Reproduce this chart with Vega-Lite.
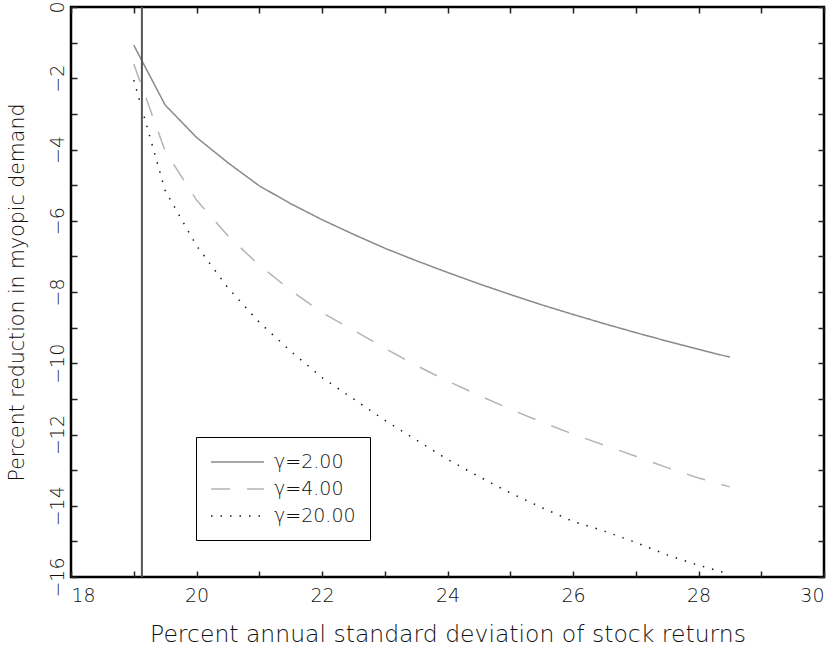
{
  "$schema": "https://vega.github.io/schema/vega-lite/v6.json",
  "autosize": {"type": "none"},
  "width": 753,
  "height": 570,
  "padding": {"left": 71, "top": 7, "right": 14, "bottom": 71},
  "background": "white",
  "config": {
    "font": "DejaVu Sans",
    "view": {"stroke": "#000", "strokeWidth": 2.5},
    "axis": {"grid": false, "labelColor": "#111", "titleColor": "#111", "labelFont": "DejaVu Sans", "titleFont": "DejaVu Sans", "labelFontWeight": 200, "titleFontWeight": 200}
  },
  "datasets": {
    "curves": [
      {"sigma": 19.0, "value": -1.07, "gamma": "γ=2.00"},
      {"sigma": 19.5, "value": -2.75, "gamma": "γ=2.00"},
      {"sigma": 20.0, "value": -3.66, "gamma": "γ=2.00"},
      {"sigma": 20.5, "value": -4.37, "gamma": "γ=2.00"},
      {"sigma": 21.0, "value": -5.02, "gamma": "γ=2.00"},
      {"sigma": 21.5, "value": -5.52, "gamma": "γ=2.00"},
      {"sigma": 22.0, "value": -5.97, "gamma": "γ=2.00"},
      {"sigma": 22.5, "value": -6.38, "gamma": "γ=2.00"},
      {"sigma": 23.0, "value": -6.77, "gamma": "γ=2.00"},
      {"sigma": 23.5, "value": -7.12, "gamma": "γ=2.00"},
      {"sigma": 24.0, "value": -7.45, "gamma": "γ=2.00"},
      {"sigma": 24.5, "value": -7.77, "gamma": "γ=2.00"},
      {"sigma": 25.0, "value": -8.07, "gamma": "γ=2.00"},
      {"sigma": 25.5, "value": -8.36, "gamma": "γ=2.00"},
      {"sigma": 26.0, "value": -8.63, "gamma": "γ=2.00"},
      {"sigma": 26.5, "value": -8.89, "gamma": "γ=2.00"},
      {"sigma": 27.0, "value": -9.14, "gamma": "γ=2.00"},
      {"sigma": 27.5, "value": -9.38, "gamma": "γ=2.00"},
      {"sigma": 28.0, "value": -9.61, "gamma": "γ=2.00"},
      {"sigma": 28.5, "value": -9.83, "gamma": "γ=2.00"},
      {"sigma": 19.0, "value": -1.6, "gamma": "γ=4.00"},
      {"sigma": 19.5, "value": -4.04, "gamma": "γ=4.00"},
      {"sigma": 20.0, "value": -5.42, "gamma": "γ=4.00"},
      {"sigma": 20.5, "value": -6.42, "gamma": "γ=4.00"},
      {"sigma": 21.0, "value": -7.25, "gamma": "γ=4.00"},
      {"sigma": 21.5, "value": -7.95, "gamma": "γ=4.00"},
      {"sigma": 22.0, "value": -8.58, "gamma": "γ=4.00"},
      {"sigma": 22.5, "value": -9.07, "gamma": "γ=4.00"},
      {"sigma": 23.0, "value": -9.58, "gamma": "γ=4.00"},
      {"sigma": 23.5, "value": -10.06, "gamma": "γ=4.00"},
      {"sigma": 24.0, "value": -10.5, "gamma": "γ=4.00"},
      {"sigma": 24.5, "value": -10.9, "gamma": "γ=4.00"},
      {"sigma": 25.0, "value": -11.29, "gamma": "γ=4.00"},
      {"sigma": 25.5, "value": -11.65, "gamma": "γ=4.00"},
      {"sigma": 26.0, "value": -11.99, "gamma": "γ=4.00"},
      {"sigma": 26.5, "value": -12.3, "gamma": "γ=4.00"},
      {"sigma": 27.0, "value": -12.61, "gamma": "γ=4.00"},
      {"sigma": 27.5, "value": -12.93, "gamma": "γ=4.00"},
      {"sigma": 28.0, "value": -13.22, "gamma": "γ=4.00"},
      {"sigma": 28.5, "value": -13.47, "gamma": "γ=4.00"},
      {"sigma": 19.0, "value": -2.05, "gamma": "γ=20.00"},
      {"sigma": 19.5, "value": -5.15, "gamma": "γ=20.00"},
      {"sigma": 20.0, "value": -6.7, "gamma": "γ=20.00"},
      {"sigma": 20.5, "value": -7.88, "gamma": "γ=20.00"},
      {"sigma": 21.0, "value": -8.85, "gamma": "γ=20.00"},
      {"sigma": 21.5, "value": -9.66, "gamma": "γ=20.00"},
      {"sigma": 22.0, "value": -10.4, "gamma": "γ=20.00"},
      {"sigma": 22.5, "value": -11.0, "gamma": "γ=20.00"},
      {"sigma": 23.0, "value": -11.6, "gamma": "γ=20.00"},
      {"sigma": 23.5, "value": -12.15, "gamma": "γ=20.00"},
      {"sigma": 24.0, "value": -12.7, "gamma": "γ=20.00"},
      {"sigma": 24.5, "value": -13.18, "gamma": "γ=20.00"},
      {"sigma": 25.0, "value": -13.64, "gamma": "γ=20.00"},
      {"sigma": 25.5, "value": -14.05, "gamma": "γ=20.00"},
      {"sigma": 26.0, "value": -14.44, "gamma": "γ=20.00"},
      {"sigma": 26.5, "value": -14.71, "gamma": "γ=20.00"},
      {"sigma": 27.0, "value": -15.03, "gamma": "γ=20.00"},
      {"sigma": 27.5, "value": -15.38, "gamma": "γ=20.00"},
      {"sigma": 28.0, "value": -15.67, "gamma": "γ=20.00"},
      {"sigma": 28.5, "value": -15.92, "gamma": "γ=20.00"}
    ],
    "vline": [{"sigma": 19.13}]
  },
  "resolve": {"axis": {"x": "independent", "y": "independent"}},
  "layer": [
    {
      "data": {"name": "curves"},
      "mark": {"type": "line", "strokeWidth": 1.5, "strokeCap": "butt", "clip": true},
      "encoding": {
        "x": {"field": "sigma", "type": "quantitative", "scale": {"domain": [18, 30], "nice": false, "zero": false},
          "axis": {"orient": "bottom", "domain": false, "values": [18, 19, 20, 21, 22, 23, 24, 25, 26, 27, 28, 29, 30], "labelExpr": "datum.value % 2 === 0 ? datum.label : ''", "ticks": true, "tickColor": "#222", "tickWidth": 1.5, "tickSize": -6, "labelFontSize": 19, "labelPadding": 15, "labelFlush": true, "title": "Percent annual standard deviation of stock returns", "titleFontSize": 23.5, "titlePadding": 17}},
        "y": {"field": "value", "type": "quantitative", "scale": {"domain": [-16, 0], "nice": false, "zero": false},
          "axis": {"orient": "left", "domain": false, "values": [0, -1, -2, -3, -4, -5, -6, -7, -8, -9, -10, -11, -12, -13, -14, -15, -16], "labelExpr": "datum.value % 2 === 0 ? datum.label : ''", "ticks": true, "tickColor": "#222", "tickWidth": 1.5, "tickSize": -6, "labelFontSize": 19, "labelAngle": -90, "labelPadding": 10, "title": "Percent reduction in myopic demand", "titleFontSize": 20.5, "titlePadding": 21}},
        "color": {"field": "gamma", "type": "nominal", "scale": {"domain": ["γ=2.00", "γ=4.00", "γ=20.00"], "range": ["#8a8a8a", "#b4b4b4", "#1a1a1a"]},
          "legend": {"title": null, "orient": "none", "legendX": 125, "legendY": 430, "strokeColor": "#000", "fillColor": "white", "padding": 14, "symbolType": "M-1,0H4.3", "symbolSize": 400, "symbolStrokeWidth": 1.5, "labelFontSize": 19, "labelFont": "DejaVu Sans", "labelFontWeight": 200, "labelColor": "#111", "labelOffset": 42, "rowPadding": 6}},
        "strokeDash": {"field": "gamma", "type": "nominal", "scale": {"domain": ["γ=2.00", "γ=4.00", "γ=20.00"], "range": [[1, 0], [19, 17], [1.5, 8]]}, "legend": null}
      }
    },
    {
      "data": {"name": "vline"},
      "mark": {"type": "rule", "color": "#555", "strokeWidth": 2},
      "encoding": {
        "x": {"field": "sigma", "type": "quantitative", "axis": {"orient": "top", "domain": false, "values": [18, 19, 20, 21, 22, 23, 24, 25, 26, 27, 28, 29, 30], "ticks": true, "tickColor": "#222", "tickWidth": 1.5, "tickSize": -6, "labels": false, "title": null}}
      }
    },
    {
      "data": {"name": "curves"},
      "mark": {"type": "point", "opacity": 0},
      "encoding": {
        "x": {"field": "sigma", "type": "quantitative", "axis": null},
        "y": {"field": "value", "type": "quantitative", "axis": {"orient": "right", "domain": false, "values": [0, -1, -2, -3, -4, -5, -6, -7, -8, -9, -10, -11, -12, -13, -14, -15, -16], "ticks": true, "tickColor": "#222", "tickWidth": 1.5, "tickSize": -6, "labels": false, "title": null}}
      }
    }
  ]
}
